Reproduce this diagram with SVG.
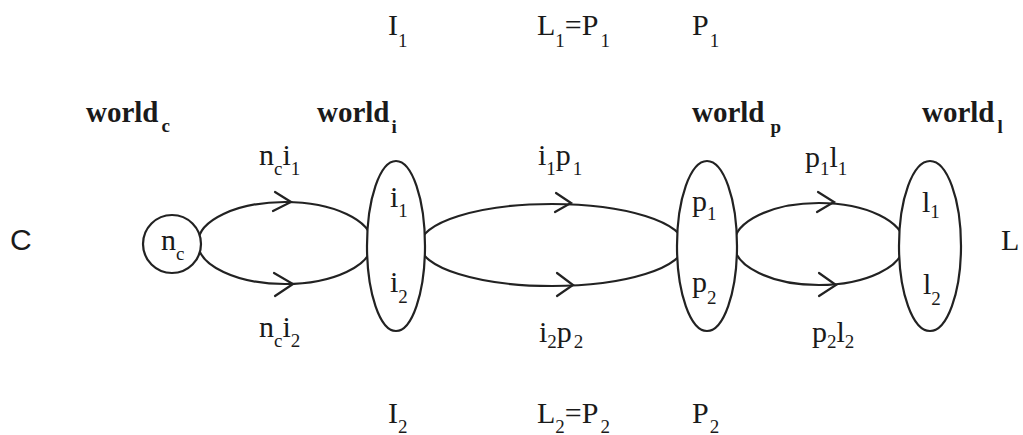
<svg xmlns="http://www.w3.org/2000/svg" width="1023" height="435" viewBox="0 0 1023 435">
<style>
.t{font-family:"Liberation Serif",serif;font-size:30px;fill:#1a1a1a}
.sans{font-family:"Liberation Sans",sans-serif;font-size:30px;fill:#1a1a1a}
.s{font-size:19px}
.b{font-weight:bold;font-size:29px}
.ln{fill:none;stroke:#222;stroke-width:2.2}
.nd{fill:#fff;stroke:#222;stroke-width:2.2}
.ar{fill:none;stroke:#222;stroke-width:2.2;stroke-linejoin:miter;stroke-linecap:round}
</style>
<rect width="1023" height="435" fill="#fff"/>
<g id="connectors">
<path class="ln" d="M198,243 A87,41 0 0 1 372,243"/>
<path class="ln" d="M198,243 A87,41 0 0 0 372,243"/>
<path class="ar" d="M275,192 L291,202 L273,211"/>
<path class="ar" d="M274,273 L293,284 L275,296"/>
<path class="ln" d="M420,245 A132,41 0 0 1 684,245"/>
<path class="ln" d="M420,245 A132,41 0 0 0 684,245"/>
<path class="ar" d="M556,193 L571,203 L555,212"/>
<path class="ar" d="M557,273 L573,285 L557,296"/>
<path class="ln" d="M734,244 A85,41 0 0 1 904,244"/>
<path class="ln" d="M734,244 A85,41 0 0 0 904,244"/>
<path class="ar" d="M818,192 L834,202 L817,212"/>
<path class="ar" d="M819,273 L836,285 L819,296"/>
</g>
<g id="node-nc">
<circle class="nd" cx="172" cy="244" r="29"/>
<text class="t" x="161" y="250">n<tspan class="s" dy="10">c</tspan></text>
</g>
<g id="node-i">
<ellipse class="nd" cx="396" cy="246" rx="29" ry="85"/>
<text class="t" x="390" y="207">i<tspan class="s" dy="10">1</tspan></text>
<text class="t" x="390" y="292">i<tspan class="s" dy="11">2</tspan></text>
</g>
<g id="node-p">
<ellipse class="nd" cx="707" cy="246" rx="30" ry="85"/>
<text class="t" x="692" y="211">p<tspan class="s" dy="9">1</tspan></text>
<text class="t" x="692" y="292">p<tspan class="s" dy="12">2</tspan></text>
</g>
<g id="node-l">
<ellipse class="nd" cx="930" cy="246" rx="31" ry="85"/>
<text class="t" x="922" y="212">l<tspan class="s" dy="6">1</tspan></text>
<text class="t" x="923" y="294">l<tspan class="s" dy="11">2</tspan></text>
</g>
<g id="labels">
<text class="sans" x="10" y="250">C</text>
<text class="t" x="1001" y="250">L</text>
<text class="t b" x="86" y="122">world<tspan class="s" dx="3" dy="10">c</tspan></text>
<text class="t b" x="317" y="122">world<tspan class="s" dx="2" dy="11">i</tspan></text>
<text class="t b" x="692" y="122">world<tspan class="s" dx="6" dy="11">p</tspan></text>
<text class="t b" x="922" y="122">world<tspan class="s" dx="3" dy="11">l</tspan></text>
<text class="t" x="388" y="35">I<tspan class="s" dy="12">1</tspan></text>
<text class="t" x="537" y="35">L<tspan class="s" dx="0" dy="12">1</tspan><tspan dy="-12">=P</tspan><tspan class="s" dx="2" dy="12">1</tspan></text>
<text class="t" x="692" y="35">P<tspan class="s" dx="1" dy="12">1</tspan></text>
<text class="t" x="388" y="423">I<tspan class="s" dy="10">2</tspan></text>
<text class="t" x="537" y="423">L<tspan class="s" dx="0" dy="10">2</tspan><tspan dy="-10">=P</tspan><tspan class="s" dx="2" dy="10">2</tspan></text>
<text class="t" x="692" y="423">P<tspan class="s" dx="1" dy="10">2</tspan></text>
<text class="t" x="259" y="165">n<tspan class="s" dy="10">c</tspan><tspan dy="-10">i</tspan><tspan class="s" dy="10">1</tspan></text>
<text class="t" x="259" y="337">n<tspan class="s" dy="10">c</tspan><tspan dy="-10">i</tspan><tspan class="s" dy="10">2</tspan></text>
<text class="t" x="538" y="165">i<tspan class="s" dy="10">1</tspan><tspan dy="-10">p</tspan><tspan class="s" dx="2" dy="10">1</tspan></text>
<text class="t" x="539" y="342">i<tspan class="s" dy="6">2</tspan><tspan dy="-6">p</tspan><tspan class="s" dx="2" dy="6">2</tspan></text>
<text class="t" x="805" y="167">p<tspan class="s" dy="8">1</tspan><tspan dy="-8">l</tspan><tspan class="s" dy="8">1</tspan></text>
<text class="t" x="812" y="342">p<tspan class="s" dy="6">2</tspan><tspan dy="-6">l</tspan><tspan class="s" dy="6">2</tspan></text>
</g>
</svg>
